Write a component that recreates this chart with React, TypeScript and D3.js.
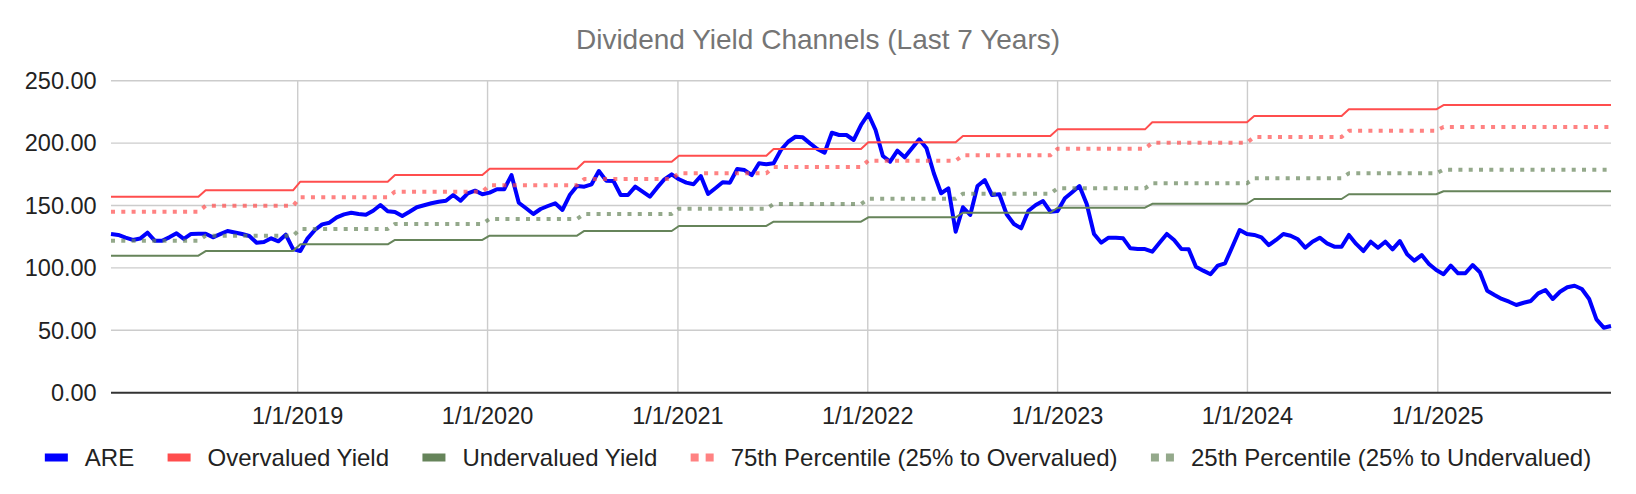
import * as d3 from "d3";
import { useRef, useEffect } from "react";

// biweekly yield readings, first one on firstDate
const firstDate = "2018-01-07";
const stepDays = 14;

const areYield = [
  127.2, 126.4, 124.2, 122.4, 123.5, 128.2, 121.8, 121.8, 124.5, 127.7,
  123.2, 127.2, 127.3, 127.4, 124.5, 127.0, 129.6, 128.4, 127.2, 125.6,
  120.2, 120.8, 123.7, 121.3, 126.6, 115.1, 113.5, 123.7, 130.4, 134.9,
  136.2, 140.5, 142.9, 144.2, 143.2, 142.6, 145.8, 150.4, 145.4, 144.8,
  141.6, 145.0, 148.6, 150.2, 151.8, 153.0, 153.8, 158.4, 153.8, 159.8,
  161.9, 159.0, 160.3, 163.0, 163.0, 174.4, 152.2, 147.8, 143.2, 147.2,
  149.6, 151.8, 146.4, 158.4, 165.6, 165.1, 167.0, 177.6, 169.9, 169.6,
  158.4, 158.4, 165.1, 161.1, 157.1, 164.3, 171.0, 175.0, 171.0, 168.3,
  167.0, 173.6, 159.2, 163.8, 168.6, 168.3, 179.2, 178.4, 174.4, 183.8,
  183.0, 183.8, 194.5, 201.1, 205.1, 204.6, 199.8, 195.3, 192.3, 208.3,
  206.5, 206.5, 202.5, 214.5, 223.3, 210.5, 189.7, 185.1, 193.9, 188.6,
  195.8, 203.0, 195.8, 175.8, 159.8, 163.8, 129.0, 148.6, 142.4, 165.6,
  170.4, 158.4, 159.0, 143.0, 135.2, 131.7, 145.8, 150.4, 153.6, 145.0,
  145.6, 155.8, 160.6, 165.6, 151.2, 127.2, 120.2, 124.2, 124.2, 123.7,
  115.7, 115.1, 115.1, 113.0, 120.2, 127.2, 122.4, 115.1, 114.9, 101.0,
  97.8, 94.9, 101.8, 103.7, 117.0, 130.4, 127.2, 126.4, 124.5, 118.3,
  122.4, 127.2, 125.8, 122.9, 116.2, 121.0, 124.2, 119.7, 117.0, 117.0,
  126.4, 119.2, 113.5, 121.0, 116.2, 121.0, 114.9, 121.5, 110.9, 105.8,
  110.3, 103.1, 98.3, 94.9, 101.8, 95.7, 95.7, 102.3, 96.5, 81.7,
  78.3, 75.1, 72.9, 70.3, 72.1, 73.5, 79.6, 82.3, 75.1, 80.9,
  84.5, 85.7, 83.1, 75.1, 58.8, 52.1, 53.4,
];

// channel levels, one per half year
const channelStarts = [
  "2018-01-01", "2018-07-01", "2019-01-01", "2019-07-01", "2020-01-01",
  "2020-07-01", "2021-01-01", "2021-07-01", "2022-01-01", "2022-07-01",
  "2023-01-01", "2023-07-01", "2024-01-01", "2024-07-01", "2025-01-01",
];
const overvalued = [157.1, 162.2, 169.1, 174.4, 179.5, 185.1, 189.9, 195.3, 200.6, 205.7, 211.0, 216.7, 221.7, 227.1, 230.5];
const undervalued = [109.8, 113.5, 118.9, 122.4, 125.8, 129.6, 133.6, 137.0, 140.5, 144.2, 148.2, 151.4, 155.2, 159.0, 161.4];
const pct75 = [145.0, 149.8, 156.6, 161.1, 166.2, 171.2, 175.8, 180.9, 185.9, 190.2, 195.5, 200.3, 204.9, 209.9, 212.9];
const pct25 = [121.8, 125.8, 131.2, 135.2, 139.2, 143.2, 147.4, 151.2, 155.4, 159.5, 163.8, 167.8, 171.8, 175.8, 178.7];

const yTicks = [0, 50, 100, 150, 200, 250];
const xTicks = ["2019-01-01", "2020-01-01", "2021-01-01", "2022-01-01", "2023-01-01", "2024-01-01", "2025-01-01"];

const FONT = "Arial, 'Liberation Sans', sans-serif";

export default function App() {
  const svgRef = useRef<SVGSVGElement | null>(null);

  useEffect(() => {
    document.body.style.margin = "0";
    const svg = d3.select(svgRef.current);
    svg.selectAll("*").remove();

    const W = 1636;
    const H = 494;
    const left = 111, right = 1611, top = 80.7, bottom = 392.7;

    const parse = d3.timeParse("%Y-%m-%d");
    const start = parse(firstDate)!;
    const dates = areYield.map((_, i) => d3.timeDay.offset(start, i * stepDays));
    const starts = channelStarts.map(s => parse(s)!);
    const level = (arr: number[]) => dates.map(d => arr[d3.bisectRight(starts, d) - 1]);

    const x = d3.scaleTime()
      .domain(d3.extent(dates) as [Date, Date])
      .range([left, right]);
    const y = d3.scaleLinear().domain([0, 250]).range([bottom, top]);

    svg.attr("viewBox", `0 0 ${W} ${H}`).attr("font-family", FONT);
    svg.append("rect").attr("width", W).attr("height", H).attr("fill", "white");

    // title
    svg.append("text")
      .attr("x", W / 2)
      .attr("y", 49)
      .attr("text-anchor", "middle")
      .attr("font-size", 28)
      .attr("fill", "#757575")
      .text("Dividend Yield Channels (Last 7 Years)");

    // grid
    const grid = svg.append("g").attr("stroke", "#cccccc").attr("stroke-width", 1.4);
    grid.selectAll("line.h")
      .data(yTicks.filter(t => t > 0))
      .join("line")
      .attr("class", "h")
      .attr("x1", left).attr("x2", right)
      .attr("y1", d => y(d)).attr("y2", d => y(d));
    grid.selectAll("line.v")
      .data(xTicks.map(s => parse(s)!))
      .join("line")
      .attr("class", "v")
      .attr("x1", d => x(d)).attr("x2", d => x(d))
      .attr("y1", top).attr("y2", bottom);

    // axis labels
    svg.append("g")
      .selectAll("text")
      .data(yTicks)
      .join("text")
      .attr("x", 96.7)
      .attr("y", d => y(d))
      .attr("dy", "0.35em")
      .attr("text-anchor", "end")
      .attr("font-size", 23.5)
      .attr("fill", "#222")
      .text(d => d3.format(".2f")(d));

    const fmtDate = d3.timeFormat("%-m/%-d/%Y");
    svg.append("g")
      .selectAll("text")
      .data(xTicks.map(s => parse(s)!))
      .join("text")
      .attr("x", d => x(d))
      .attr("y", 424)
      .attr("text-anchor", "middle")
      .attr("font-size", 23.5)
      .attr("fill", "#222")
      .text(d => fmtDate(d));

    // series
    const series = [
      { name: "ARE", values: areYield, color: "#0000ff", width: 4, dash: null, opacity: 1 },
      { name: "Overvalued Yield", values: level(overvalued), color: "#ff4d4d", width: 2, dash: null, opacity: 1 },
      { name: "Undervalued Yield", values: level(undervalued), color: "#66845a", width: 2, dash: null, opacity: 1 },
      { name: "75th Percentile (25% to Overvalued)", values: level(pct75), color: "#ff4d4d", width: 4, dash: "4 6.3", opacity: 0.7 },
      { name: "25th Percentile (25% to Undervalued)", values: level(pct25), color: "#66845a", width: 4, dash: "4 6.3", opacity: 0.7 },
    ];

    const line = d3.line<number>()
      .x((_, i) => x(dates[i]))
      .y(d => y(d));

    svg.append("g")
      .selectAll("path")
      .data(series)
      .join("path")
      .attr("d", d => line(d.values)!)
      .attr("fill", "none")
      .attr("stroke", d => d.color)
      .attr("stroke-width", d => d.width)
      .attr("stroke-opacity", d => d.opacity)
      .attr("stroke-dasharray", d => d.dash)
      .attr("stroke-linejoin", "round");

    // baseline
    svg.append("line")
      .attr("x1", left).attr("x2", right)
      .attr("y1", bottom).attr("y2", bottom)
      .attr("stroke", "#333")
      .attr("stroke-width", 2);

    // legend, centred under the chart
    const legend = svg.append("g");
    let cursor = 0;
    series.forEach((s, i) => {
      const item = legend.append("g").attr("transform", `translate(${cursor},0)`);
      if (s.dash) {
        [0, 15].forEach(dx =>
          item.append("rect")
            .attr("x", dx).attr("y", -4).attr("width", 8).attr("height", 8)
            .attr("fill", s.color).attr("fill-opacity", s.opacity)
        );
      } else {
        item.append("rect")
          .attr("x", 0).attr("y", -4).attr("width", 23).attr("height", 8)
          .attr("fill", s.color);
      }
      const label = item.append("text")
        .attr("x", 40)
        .attr("y", 8)
        .attr("font-size", 24)
        .attr("fill", "#222")
        .text(s.name);
      const tw = (label.node() as SVGTextElement).getComputedTextLength();
      cursor += 40 + tw + (i < series.length - 1 ? 33.4 : 0);
    });
    legend.attr("transform", `translate(${(W - cursor) / 2},457.5)`);
  }, []);

  return (
    <svg
      ref={svgRef}
      width={1636}
      height={494}
      style={{ display: "block" }}
    />
  );
}
